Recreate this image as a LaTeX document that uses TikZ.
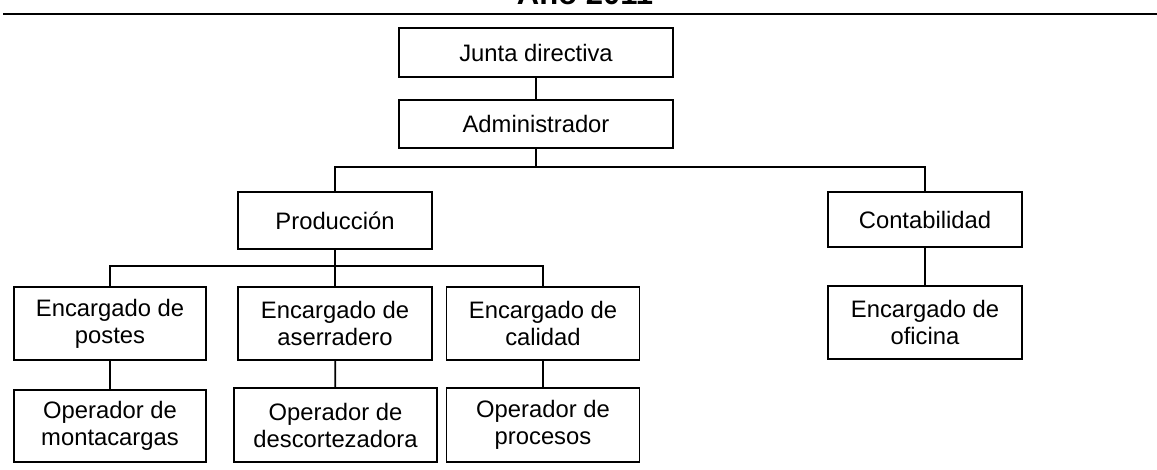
\documentclass[tikz,border=0pt]{standalone}
\usepackage{fontspec}
\setmainfont{Liberation Sans}
\begin{document}
\begin{tikzpicture}[x=1pt,y=-1pt,
  orgbox/.style={draw=black,line width=1.7pt,inner sep=0pt,align=center,
    font=\fontsize{23.8}{27}\selectfont},
  conn/.style={draw=black,line width=1.7pt}]
\useasboundingbox (0,0) rectangle (1157,470);
% title (cut at top) and rule
\node[anchor=base,inner sep=0pt,font=\fontsize{31}{36}\selectfont\bfseries] (title) at (585,5) {Año 2011};
\coordinate (rl) at (3,14);
\coordinate (rr) at (1157,14);
\draw[line width=2pt] (rl) -- (rr);
% nodes
\node[orgbox,minimum width=274,minimum height=49] (junta) at (536,52.5) {Junta directiva};
\node[orgbox,minimum width=274,minimum height=48] (admin) at (536,124) {Administrador};
\node[orgbox,minimum width=194,minimum height=57] (prod) at (335,220.5) {Producción};
\node[orgbox,minimum width=194,minimum height=55] (conta) at (925,219.5) {Contabilidad};
\node[orgbox,minimum width=192,minimum height=73] (postes) at (110,323.5) {Encargado de\\postes};
\node[orgbox,minimum width=194,minimum height=73] (aserr) at (335,323.5) {Encargado de\\aserradero};
\node[orgbox,minimum width=193,minimum height=73] (calid) at (543,323.5) {Encargado de\\calidad};
\node[orgbox,minimum width=194,minimum height=73] (ofic) at (925,322.5) {Encargado de\\oficina};
\node[orgbox,minimum width=192,minimum height=72] (opmon) at (110,426) {Operador de\\montacargas};
\node[orgbox,minimum width=203,minimum height=74] (opdes) at (335.5,425) {Operador de\\descortezadora};
\node[orgbox,minimum width=193,minimum height=74] (oppro) at (543,425) {Operador de\\procesos};
% connectors
\coordinate (b1) at (536,167);
\coordinate (b2) at (335,266);
\draw[conn] (junta) -- (admin);
\draw[conn] (admin.south) -- (b1);
\draw[conn] (prod.north) |- (b1) -| (conta.north);
\draw[conn] (prod.south) -- (b2);
\draw[conn] (postes.north) |- (b2) -| (calid.north);
\draw[conn] (b2) -- (aserr.north);
\draw[conn] (conta) -- (ofic);
\draw[conn] (postes) -- (opmon);
\draw[conn] (aserr) -- (opdes);
\draw[conn] (calid) -- (oppro);
\end{tikzpicture}
\end{document}
